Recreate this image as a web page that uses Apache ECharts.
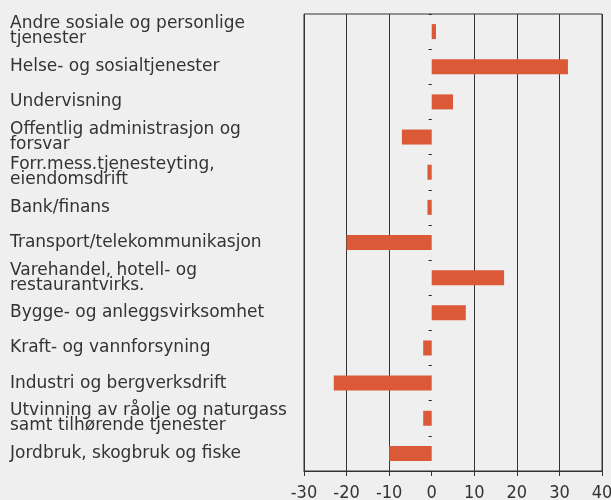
<!DOCTYPE html>
<html>
<head>
<meta charset="utf-8">
<script src="https://cdn.jsdelivr.net/npm/echarts@6/dist/echarts.min.js"></script>
<style>
html,body{margin:0;padding:0;background:#efefef;}
#main{width:611px;height:500px;}
</style>
</head>
<body>
<div id="main"></div>
<script>
// bransjer, ovenfra og ned
var naeringer = [
    'Andre sosiale og personlige\ntjenester',
    'Helse- og sosialtjenester',
    'Undervisning',
    'Offentlig administrasjon og\nforsvar',
    'Forr.mess.tjenesteyting,\neiendomsdrift',
    'Bank/finans',
    'Transport/telekommunikasjon',
    'Varehandel, hotell- og\nrestaurantvirks.',
    'Bygge- og anleggsvirksomhet',
    'Kraft- og vannforsyning',
    'Industri og bergverksdrift',
    'Utvinning av råolje og naturgass\nsamt tilhørende tjenester',
    'Jordbruk, skogbruk og fiske'
];
var endring = [1, 32, 5, -7, -1, -1, -20, 17, 8, -2, -23, -2, -10];
var xMin = -30, xMax = 40, xStep = 10;

var gridColor = '#333';
var option = {
    backgroundColor: '#efefef',
    animation: false,
    grid: {
        left: 304, right: 9, top: 14, bottom: 29,
        outerBoundsMode: 'none',
        containLabel: false,
        show: true, borderColor: gridColor, borderWidth: 1,
        backgroundColor: 'transparent'
    },
    xAxis: {
        type: 'value',
        min: xMin, max: xMax, interval: xStep,
        axisLine: {show: true, onZero: false, lineStyle: {color: gridColor, width: 1}},
        axisTick: {show: true, length: 5, lineStyle: {color: gridColor}},
        axisLabel: {color: '#333', fontSize: 18, margin: 13, fontFamily: 'DejaVu Sans Condensed', showMinLabel: true, showMaxLabel: true, hideOverlap: false},
        splitLine: {
            show: true,
            lineStyle: {color: [gridColor, gridColor, gridColor, 'rgba(0,0,0,0)', gridColor, gridColor, gridColor, gridColor], width: 1}
        }
    },
    yAxis: {
        type: 'category',
        inverse: true,
        data: naeringer,
        axisLine: {show: false, onZero: true},
        axisTick: {show: true, length: 3, lineStyle: {color: '#222'}},
        axisLabel: {
            align: 'left',
            margin: 294,
            color: '#333',
            fontSize: 17,
            lineHeight: 15,
            fontFamily: 'DejaVu Sans'
        }
    },
    series: [{
        type: 'bar',
        data: endring,
        barWidth: 15,
        itemStyle: {color: '#db5937'}
    }]
};
var myChart = echarts.init(document.getElementById('main'));
myChart.setOption(option);
</script>
</body>
</html>
